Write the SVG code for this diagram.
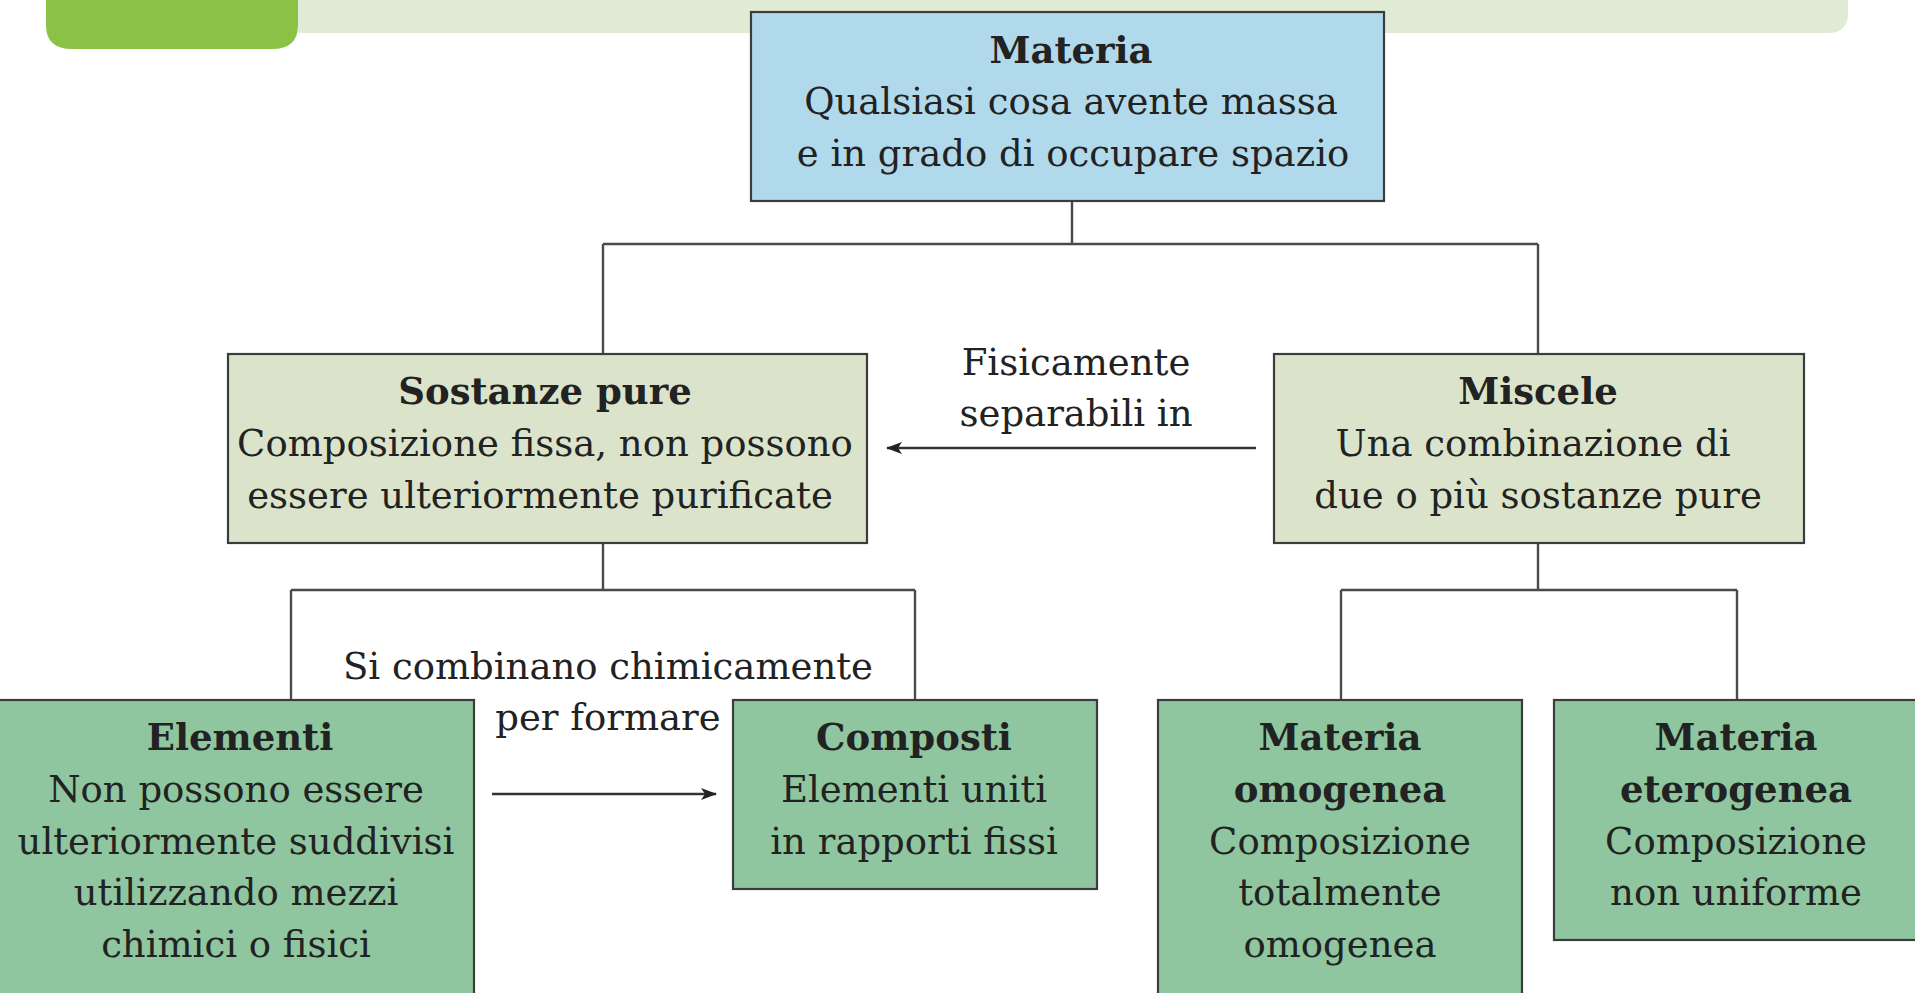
<svg xmlns="http://www.w3.org/2000/svg" width="1915" height="993" viewBox="0 0 1915 993">
<style>
.box{stroke:#3c3c3c;stroke-width:2.2}
.blue{fill:#b1d9ec}
.sage{fill:#dbe4cb}
.green{fill:#8fc69f}
.t{font-family:"DejaVu Serif","Liberation Serif",serif;font-size:37px;fill:#222;text-anchor:middle}
.b{font-weight:bold}
.con{fill:none;stroke:#4a4a4a;stroke-width:2.4}
.arr{fill:none;stroke:#333;stroke-width:2.4}
</style>
<defs>
<marker id="ah" viewBox="0 0 16 12" refX="15" refY="6" markerWidth="16" markerHeight="12" markerUnits="userSpaceOnUse" orient="auto">
<path d="M0,0 L16,6 L0,12 L4,6 Z" fill="#222"/>
</marker>
</defs>
<rect width="1915" height="993" fill="#fff"/>
<g id="header">
<path d="M298,0 H1848 V13 Q1848,33 1828,33 H298 Z" fill="#dfebd4"/>
<path d="M46,0 H298 V25 Q298,49 272,49 H72 Q46,49 46,25 Z" fill="#8bc246"/>
</g>
<g id="connectors">
<path class="con" d="M1072,201 V244 M603,244 H1538 M603,244 V354 M1538,244 V354"/>
<path class="con" d="M603,543 V590 M291,590 H915 M291,590 V700 M915,590 V700"/>
<path class="con" d="M1538,543 V590 M1341,590 H1737 M1341,590 V700 M1737,590 V700"/>
<line class="arr" x1="1256" y1="448" x2="887" y2="448" marker-end="url(#ah)"/>
<line class="arr" x1="492" y1="794" x2="716" y2="794" marker-end="url(#ah)"/>
<text class="t" x="1076" y="375">Fisicamente</text>
<text class="t" x="1076" y="426">separabili in</text>
<text class="t" x="608" y="679">Si combinano chimicamente</text>
<text class="t" x="608" y="730">per formare</text>
</g>
<g id="materia">
<rect class="box blue" x="751" y="12" width="633" height="189"/>
<text class="t b" x="1071" y="63">Materia</text>
<text class="t" x="1071" y="114">Qualsiasi cosa avente massa</text>
<text class="t" x="1073" y="166">e in grado di occupare spazio</text>
</g>
<g id="sostanze">
<rect class="box sage" x="228" y="354" width="639" height="189"/>
<text class="t b" x="545" y="404">Sostanze pure</text>
<text class="t" x="545" y="456">Composizione fissa, non possono</text>
<text class="t" x="540" y="508">essere ulteriormente purificate</text>
</g>
<g id="miscele">
<rect class="box sage" x="1274" y="354" width="530" height="189"/>
<text class="t b" x="1538" y="404">Miscele</text>
<text class="t" x="1533" y="456">Una combinazione di</text>
<text class="t" x="1538" y="508">due o più sostanze pure</text>
</g>
<g id="elementi">
<rect class="box green" x="-2" y="700" width="476" height="300"/>
<text class="t b" x="240" y="750">Elementi</text>
<text class="t" x="236" y="802">Non possono essere</text>
<text class="t" x="236" y="854">ulteriormente suddivisi</text>
<text class="t" x="236" y="905">utilizzando mezzi</text>
<text class="t" x="236" y="957">chimici o fisici</text>
</g>
<g id="composti">
<rect class="box green" x="733" y="700" width="364" height="189"/>
<text class="t b" x="914" y="750">Composti</text>
<text class="t" x="914" y="802">Elementi uniti</text>
<text class="t" x="914" y="854">in rapporti fissi</text>
</g>
<g id="omogenea">
<rect class="box green" x="1158" y="700" width="364" height="300"/>
<text class="t b" x="1340" y="750">Materia</text>
<text class="t b" x="1340" y="802">omogenea</text>
<text class="t" x="1340" y="854">Composizione</text>
<text class="t" x="1340" y="905">totalmente</text>
<text class="t" x="1340" y="957">omogenea</text>
</g>
<g id="eterogenea">
<rect class="box green" x="1554" y="700" width="365" height="240"/>
<text class="t b" x="1736" y="750">Materia</text>
<text class="t b" x="1736" y="802">eterogenea</text>
<text class="t" x="1736" y="854">Composizione</text>
<text class="t" x="1736" y="905">non uniforme</text>
</g>
</svg>
